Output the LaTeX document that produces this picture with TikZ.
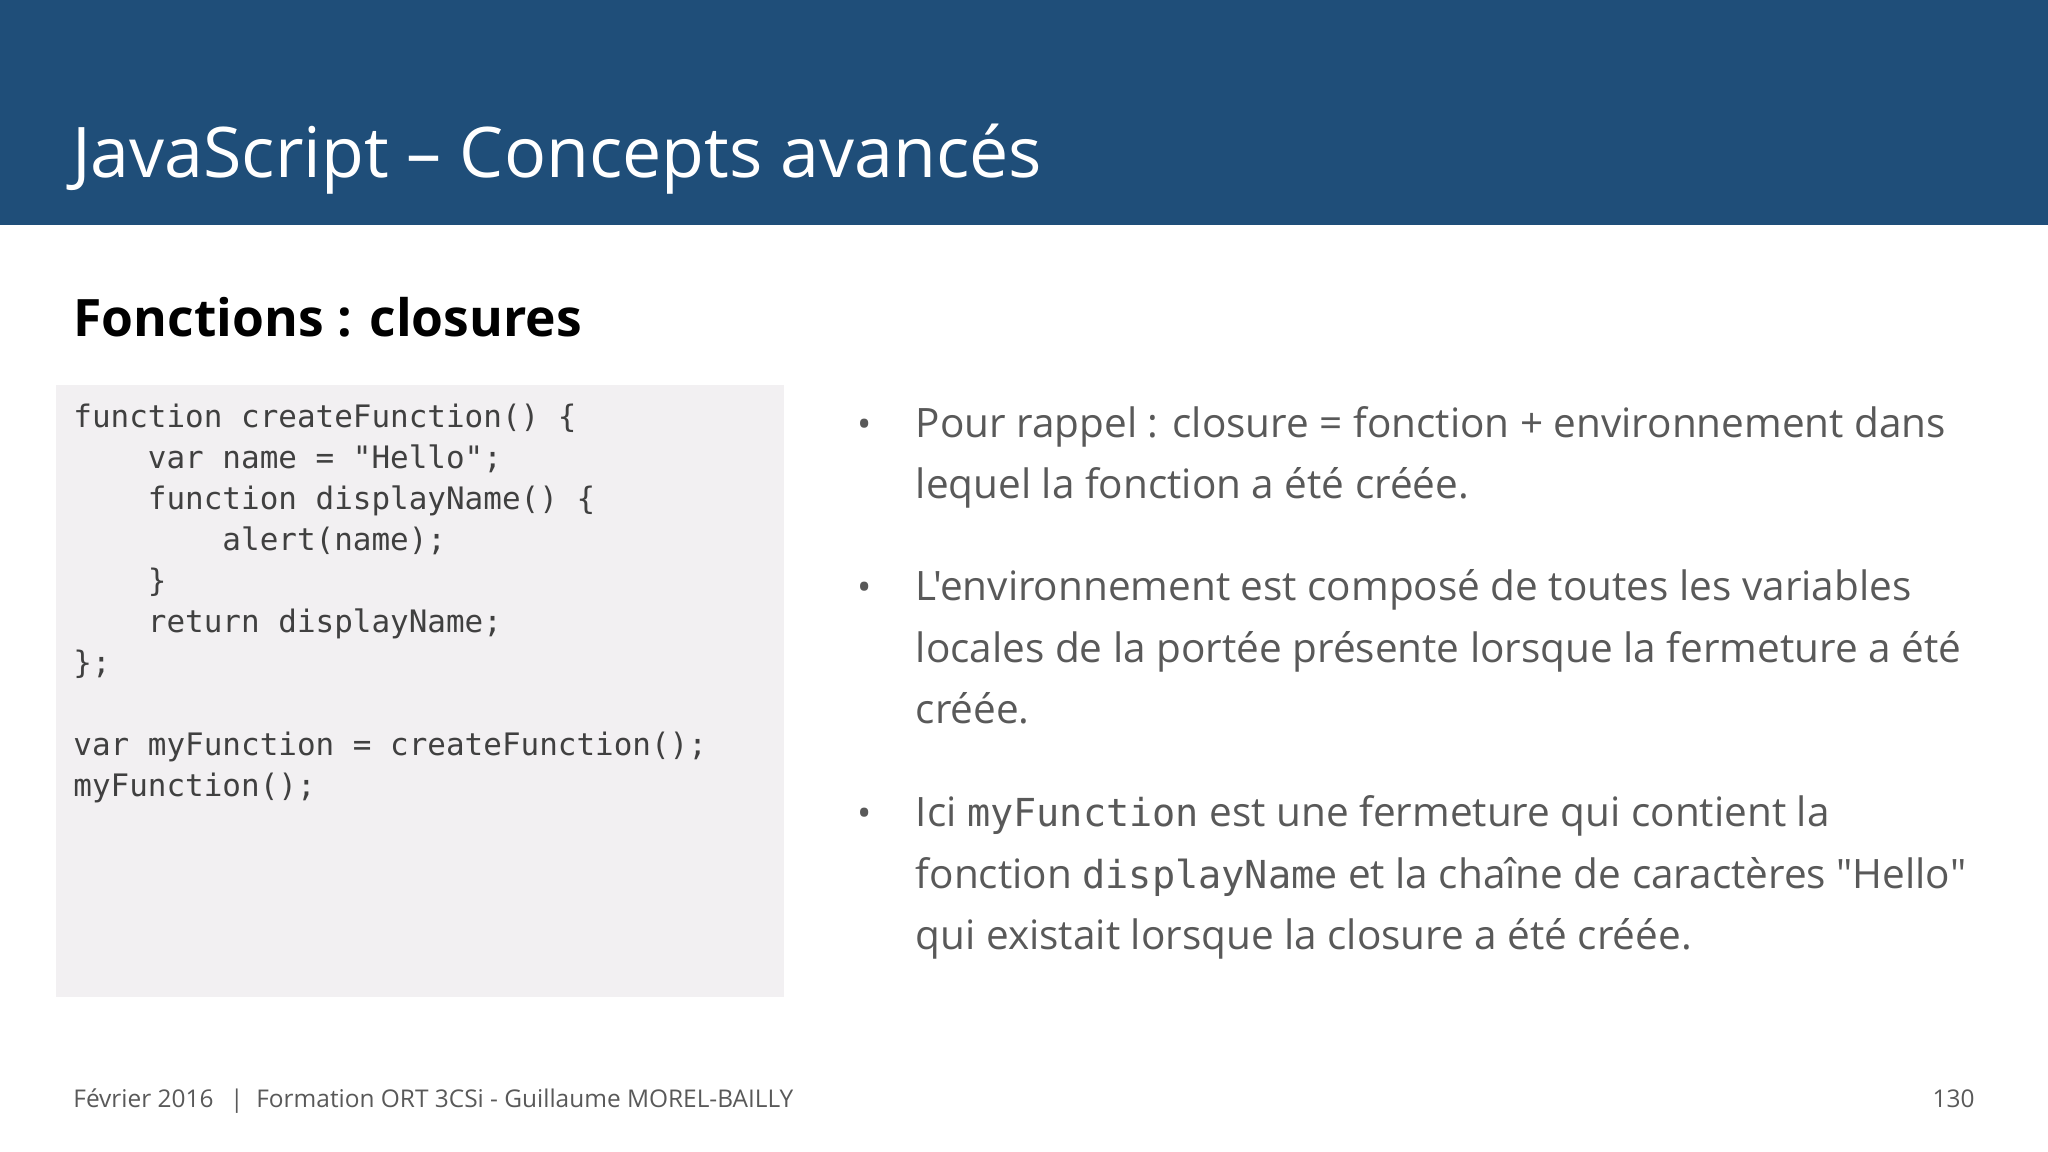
\documentclass[tikz,border=0pt]{standalone}
\usepackage{fontspec}
\setmainfont{Open Sans}[Ligatures=TeXOff]
\setmonofont{DejaVu Sans Mono}
\definecolor{hdr}{RGB}{31,78,121}
\definecolor{codebg}{RGB}{242,240,242}
\definecolor{txt}{RGB}{89,89,89}
\definecolor{codec}{RGB}{64,64,64}
\begin{document}
\begin{tikzpicture}[x=1pt,y=-1pt,
  code/.style={anchor=base west,inner sep=0,font=\fontsize{23.7}{26}\ttfamily,text=codec},
  body/.style={anchor=base west,inner sep=0,font=\fontsize{31}{34}\selectfont,text=txt},
  bul/.style={anchor=base,inner sep=0,font=\fontsize{29}{34}\selectfont,text=txt},
  foot/.style={anchor=base west,inner sep=0,font=\fontsize{18.7}{20}\selectfont,text=txt}]
\useasboundingbox (0,0) rectangle (1568,882);
\fill[white] (0,0) rectangle (1568,882);
\fill[hdr] (0,0) rectangle (1568,172);
\node[anchor=base west,inner sep=0,text=white,font=\fontsize{53.5}{60}\selectfont] (title) at (55,136) {JavaScript – Concepts avancés};
\node[anchor=base west,inner sep=0,font=\fontsize{39.5}{44}\bfseries] (sub) at (56,258) {Fonctions : closures};
\fill[codebg] (43,295) rectangle (600,763);
\node[code] (c1) at (56,327) {function createFunction() \{};
\node[code] (c2) at (56,358.4) {\ \ \ \ var name = \symbol{"22}Hello\symbol{"22};};
\node[code] (c3) at (56,389.8) {\ \ \ \ function displayName() \{};
\node[code] (c4) at (56,421.2) {\ \ \ \ \ \ \ \ alert(name);};
\node[code] (c5) at (56,452.6) {\ \ \ \ \}};
\node[code] (c6) at (56,484) {\ \ \ \ return displayName;};
\node[code] (c7) at (56,515.4) {\};};
\node[code] (c8) at (56,578.2) {var myFunction = createFunction();};
\node[code] (c9) at (56,609.6) {myFunction();};
\node[bul] (b1) at (662,335) {•};
\node[body] (t1) at (701,335) {Pour rappel : closure = fonction + environnement dans};
\node[body] (t2) at (701,382) {lequel la fonction a été créée.};
\node[bul] (b2) at (662,460) {•};
\node[body] (t3) at (701,460) {L\symbol{"27}environnement est composé de toutes les variables};
\node[body] (t4) at (701,507) {locales de la portée présente lorsque la fermeture a été};
\node[body] (t5) at (701,554) {créée.};
\node[bul] (b3) at (662,633) {•};
\node[body] (t6) at (701,633) {Ici {\ttfamily\fontsize{29.5}{34}\selectfont myFunction} est une fermeture qui contient la};
\node[body] (t7) at (701,680) {fonction {\ttfamily\fontsize{29.5}{34}\selectfont displayName} et la chaîne de caractères \symbol{"22}Hello\symbol{"22}};
\node[body] (t8) at (701,727) {qui existait lorsque la closure a été créée.};
\node[foot] (f1) at (56,848) {Février 2016 \ \,|\ \ Formation ORT 3CSi - Guillaume MOREL-BAILLY};
\node[foot,anchor=base east] (f2) at (1512,848) {130};
\end{tikzpicture}
\end{document}
